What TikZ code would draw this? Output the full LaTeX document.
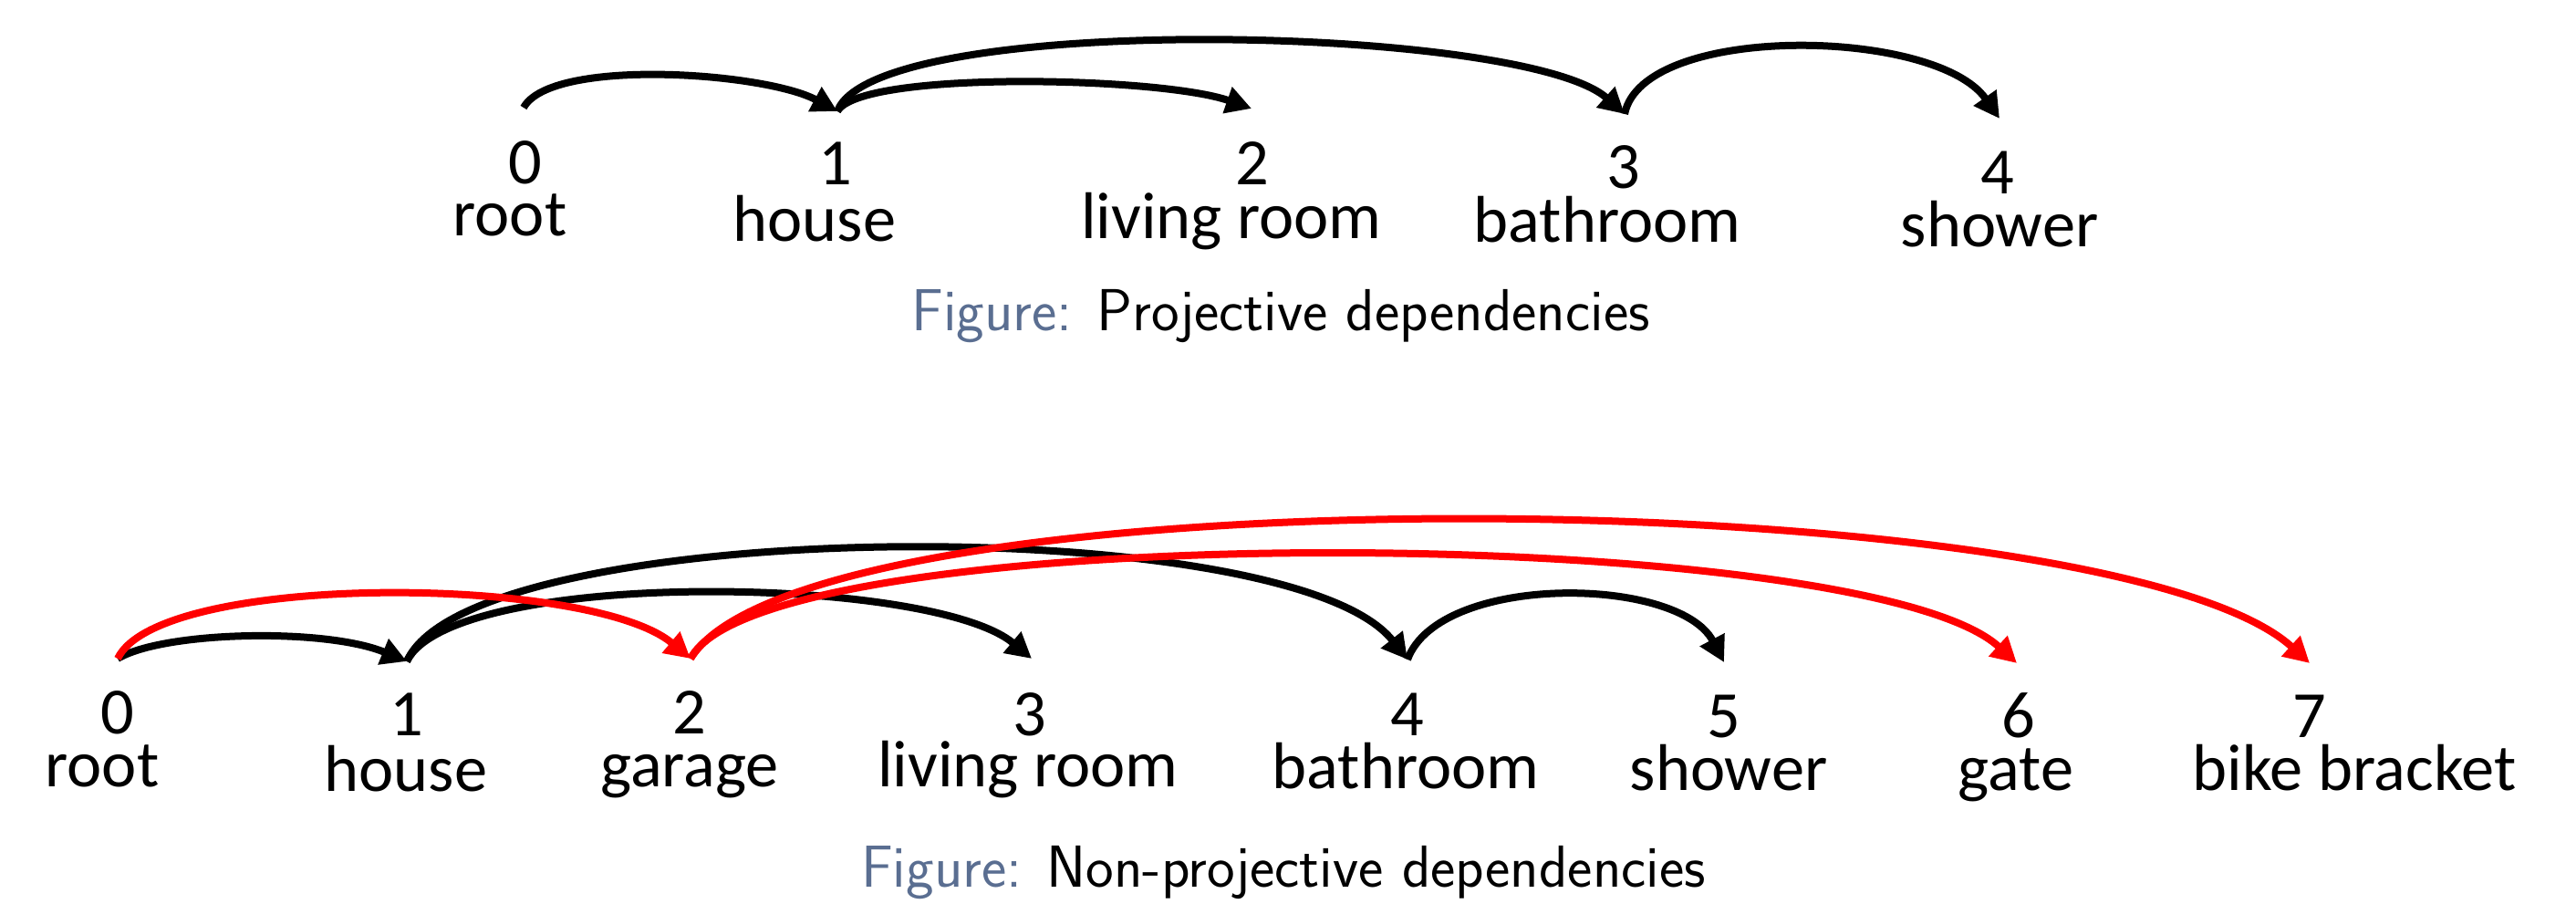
\documentclass[tikz,border=0pt]{standalone}
\usepackage{fontspec}
\setmainfont{Carlito}
\usepackage{tikz}
\usetikzlibrary{arrows.meta}
\definecolor{figname}{RGB}{90,110,145}
\definecolor{crossing}{RGB}{255,0,0}
\newcommand\deparc[5]{%
  \draw[dep, #1] (#2) .. controls +#4 and +#5 .. (#3);}
\tikzset{
  idx/.style={anchor=base, inner sep=0pt, font=\fontsize{20.6}{24}\selectfont},
  word/.style={anchor=base, inner sep=0pt, font=\fontsize{20.6}{24}\selectfont},
  dep/.style={line width=0.08cm, -{Triangle[length=0.28cm, width=0.29cm]}},
  figcap/.style={anchor=base, inner sep=0pt, font=\fontsize{18.5}{22}\sffamily},
}

\begin{document}
\begin{tikzpicture}
\useasboundingbox (0,0) rectangle (28.24,9.91);
% projective: arc ends
\coordinate (p0) at (5.74,8.73);
\coordinate (p1) at (9.18,8.69);
\coordinate (p2) at (13.72,8.72);
\coordinate (p3) at (17.81,8.66);
\coordinate (p4) at (21.92,8.61);
\deparc{black}{p0}{p1}{(0.3,0.55)}{(-0.8,0.43)}
\deparc{black}{p1}{p2}{(0.25,0.45)}{(-1.0,0.35)}
\deparc{black}{p1}{p3}{(0.4,1.1)}{(-1.1,0.98)}
\deparc{black}{p3}{p4}{(0.2,1.0)}{(-0.7,1.0)}
% projective: tokens
\node[idx]  (pi0) at (5.76,7.89)  {0};
\node[word] (pw0) at (5.59,7.32)  {root};
\node[idx]  (pi1) at (9.16,7.88)  {1};
\node[word] (pw1) at (8.93,7.26)  {house};
\node[idx]  (pi2) at (13.73,7.88) {2};
\node[word] (pw2) at (13.50,7.29) {living room};
\node[idx]  (pi3) at (17.80,7.84) {3};
\node[word] (pw3) at (17.62,7.25) {bathroom};
\node[idx]  (pi4) at (21.90,7.78) {4};
\node[word] (pw4) at (21.92,7.20) {shower};
\node[figcap] (pcap) at (14.04,6.28)
  {{\color{figname}Figure:} Projective dependencies};
% non-projective: arc ends
\coordinate (n0) at (1.29,2.69);
\coordinate (n1) at (4.46,2.66);
\coordinate (n2) at (7.57,2.69);
\coordinate (n3) at (11.31,2.69);
\coordinate (n4) at (15.43,2.68);
\coordinate (n5) at (18.90,2.65);
\coordinate (n6) at (22.11,2.64);
\coordinate (n7) at (25.32,2.64);
\deparc{black}{n0}{n1}{(0.5,0.3)}{(-0.9,0.37)}
\deparc{black}{n1}{n3}{(0.5,1.02)}{(-1.1,0.92)}
\deparc{black}{n1}{n4}{(0.7,1.6)}{(-1.3,1.65)}
\deparc{black}{n4}{n5}{(0.35,0.95)}{(-0.5,0.95)}
\deparc{crossing}{n0}{n2}{(0.45,0.95)}{(-1.1,0.92)}
\deparc{crossing}{n2}{n6}{(0.8,1.55)}{(-1.7,1.55)}
\deparc{crossing}{n2}{n7}{(1.3,2.1)}{(-2.2,2.0)}
% non-projective: tokens
\node[idx]  (ni0) at (1.29,1.86)  {0};
\node[word] (nw0) at (1.12,1.28)  {root};
\node[idx]  (ni1) at (4.46,1.84)  {1};
\node[word] (nw1) at (4.45,1.23)  {house};
\node[idx]  (ni2) at (7.56,1.86)  {2};
\node[word] (nw2) at (7.56,1.28)  {garage};
\node[idx]  (ni3) at (11.29,1.84) {3};
\node[word] (nw3) at (11.27,1.28) {living room};
\node[idx]  (ni4) at (15.43,1.84) {4};
\node[word] (nw4) at (15.41,1.26) {bathroom};
\node[idx]  (ni5) at (18.90,1.82) {5};
\node[word] (nw5) at (18.95,1.24) {shower};
\node[idx]  (ni6) at (22.13,1.82) {6};
\node[word] (nw6) at (22.10,1.24) {gate};
\node[idx]  (ni7) at (25.32,1.82) {7};
\node[word] (nw7) at (25.81,1.24) {bike bracket};
\node[figcap] (ncap) at (14.07,0.18)
  {{\color{figname}Figure:} Non-projective dependencies};
\end{tikzpicture}
\end{document}
